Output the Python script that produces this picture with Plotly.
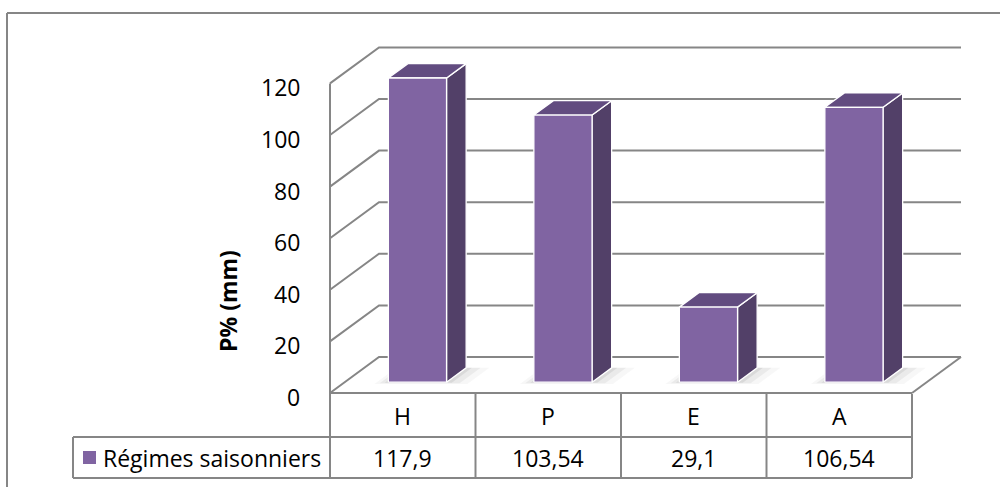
import plotly.graph_objects as go

# ---- data ----
seasons = ["H", "P", "E", "A"]
precip_mm = [117.9, 103.54, 29.1, 106.54]
series_name = "Régimes saisonniers"
y_ticks = [0, 20, 40, 60, 80, 100, 120]
axis_title = "P% (mm)"

# ---- page geometry (pixels) ----
W, H = 1000, 487
X0_PX = 330.0        # front-left corner of the floor
CAT_PX = 145.5       # width of one category slot
Y0_PX = 393.0        # value 0 on the front plane
UNIT_PX = 2.58       # pixels per mm
DEPTH_X_PX, DEPTH_Y_PX = 49.0, 36.0   # oblique depth offset of the walls

DX = DEPTH_X_PX / CAT_PX
DY = DEPTH_Y_PX / UNIT_PX

x_range = [-0.5 - X0_PX / CAT_PX, -0.5 + (W - X0_PX) / CAT_PX]
y_range = [-(H - Y0_PX) / UNIT_PX, Y0_PX / UNIT_PX]


def px_x(p):
    return -0.5 + (p - X0_PX) / CAT_PX


def px_y(p):
    return (Y0_PX - p) / UNIT_PX


def proj(x, v, d):
    """Oblique projection: category x, value v, depth d in [0, 1]."""
    return x + d * DX, v + d * DY


GRID = "#868686"
FRONT = "#8064a2"
SIDE = "#524068"
TOP = "#624c80"
FONT = "Open Sans"
FS = 23

fig = go.Figure()


def poly(points, fill, line_color="white", line_w=1.3):
    xs = [p[0] for p in points] + [points[0][0]]
    ys = [p[1] for p in points] + [points[0][1]]
    fig.add_trace(go.Scatter(
        x=xs, y=ys, mode="lines", fill="toself", fillcolor=fill,
        line=dict(color=line_color, width=line_w),
        hoverinfo="skip", showlegend=False))


def path(points, color=GRID, width=2):
    fig.add_trace(go.Scatter(
        x=[p[0] for p in points], y=[p[1] for p in points], mode="lines",
        line=dict(color=color, width=width), hoverinfo="skip", showlegend=False))


n = len(seasons)
left, right = -0.5, n - 0.5
top_v = y_ticks[-1]

# walls: left wall edge and gridlines on the side and back walls
path([proj(left, 0, 0), proj(left, top_v, 0)])
for v in y_ticks:
    path([proj(left, v, 0), proj(left, v, 1), proj(right, v, 1)])
# floor right edge
path([proj(right, 0, 0), proj(right, 0, 1)])

# columns
half_w = 0.2
d_front, d_back = 0.3, 0.7
for i, v in enumerate(precip_mm):
    xl, xr = i - half_w, i + half_w
    # soft floor shadow
    for grow, alpha in ((0.08, 0.03), (0.05, 0.05), (0.02, 0.07)):
        poly([proj(xl - grow, 0, d_front - grow * 0.6), proj(xr + grow * 2.0, 0, d_front - grow * 0.6),
              proj(xr + grow * 2.0, 0, d_back), proj(xl - grow, 0, d_back)],
             "rgba(0,0,0,%.2f)" % alpha, line_color="rgba(0,0,0,0)", line_w=0)
    poly([proj(xr, 0, d_front), proj(xr, 0, d_back), proj(xr, v, d_back), proj(xr, v, d_front)], SIDE)
    poly([proj(xl, v, d_front), proj(xr, v, d_front), proj(xr, v, d_back), proj(xl, v, d_back)], TOP)
    poly([proj(xl, 0, d_front), proj(xr, 0, d_front), proj(xr, v, d_front), proj(xl, v, d_front)], FRONT)

annotations = []

# value axis labels on the front edge of the left wall
for v in y_ticks:
    annotations.append(dict(x=left, y=v, xref="x", yref="y", text=str(v), showarrow=False,
                            xanchor="right", yanchor="middle", xshift=-28, yshift=-4,
                            font=dict(family=FONT, size=FS, color="black")))

annotations.append(dict(x=px_x(228), y=px_y(301), xref="x", yref="y",
                        text="<b>%s</b>" % axis_title, showarrow=False, textangle=-90,
                        font=dict(family=FONT, size=FS, color="black")))

# data table under the chart
row1_top, row_mid, row_bot = px_y(394), px_y(437), px_y(478)
legend_left = px_x(73)
shapes = []
tline = dict(color=GRID, width=2)
shapes.append(dict(type="line", xref="x", yref="y", x0=legend_left, x1=right, y0=row_mid, y1=row_mid, line=tline))
shapes.append(dict(type="line", xref="x", yref="y", x0=legend_left, x1=right, y0=row_bot, y1=row_bot, line=tline))
shapes.append(dict(type="line", xref="x", yref="y", x0=legend_left, x1=legend_left, y0=row_mid, y1=row_bot, line=tline))
for k in range(n + 1):
    shapes.append(dict(type="line", xref="x", yref="y", x0=left + k, x1=left + k,
                       y0=row1_top if k else 0, y1=row_bot, line=tline))
# floor front edge / table top
shapes.append(dict(type="line", xref="x", yref="y", x0=left, x1=right, y0=0, y1=0, line=tline))

for i, (s, v) in enumerate(zip(seasons, precip_mm)):
    annotations.append(dict(x=i, y=(row1_top + row_mid) / 2, xref="x", yref="y", text=s,
                            showarrow=False, font=dict(family=FONT, size=FS, color="black")))
    annotations.append(dict(x=i, y=(row_mid + row_bot) / 2, xref="x", yref="y",
                            text=("%g" % v).replace(".", ","), showarrow=False,
                            font=dict(family=FONT, size=FS, color="black")))

# legend key
shapes.append(dict(type="rect", xref="x", yref="y", x0=px_x(83), x1=px_x(96),
                   y0=px_y(464), y1=px_y(451), fillcolor=FRONT, line=dict(width=0)))
annotations.append(dict(x=px_x(101), y=(row_mid + row_bot) / 2, xref="x", yref="y",
                        text=series_name, showarrow=False, xanchor="left",
                        font=dict(family=FONT, size=FS, color="black")))

# chart area border
shapes.append(dict(type="line", xref="x", yref="y", x0=px_x(7), x1=px_x(1000),
                   y0=px_y(13), y1=px_y(13), line=tline))
shapes.append(dict(type="line", xref="x", yref="y", x0=px_x(7), x1=px_x(7),
                   y0=px_y(13), y1=px_y(487), line=tline))

fig.update_layout(
    width=W, height=H, autosize=False,
    margin=dict(l=0, r=0, t=0, b=0),
    paper_bgcolor="white", plot_bgcolor="white",
    xaxis=dict(range=x_range, visible=False, fixedrange=True),
    yaxis=dict(range=y_range, visible=False, fixedrange=True),
    shapes=shapes, annotations=annotations, showlegend=False,
)

fig.write_html("out.html")
